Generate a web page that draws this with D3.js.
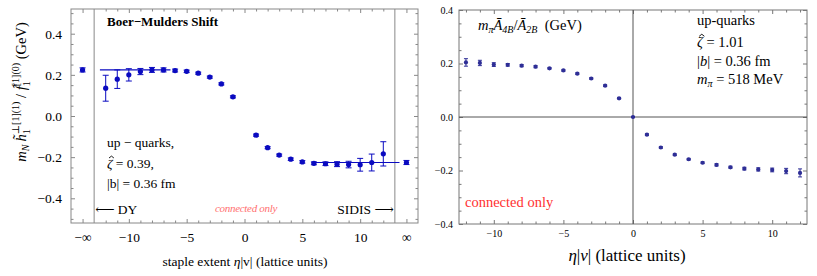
<!DOCTYPE html>
<html>
<head>
<meta charset="utf-8">
<script src="https://cdn.jsdelivr.net/npm/d3@7"></script>
<style>
  body { margin: 0; background: #fff; }
  svg { display: block; }
  text { font-family: "Liberation Serif", "DejaVu Serif", serif; }
</style>
</head>
<body>
<div id="chart"></div>
<script>
// ---- left panel: Boer-Mulders shift, lattice data ----
const bmNegX = [-12, -11, -10, -9, -8, -7, -6, -5, -4, -3, -2, -1];
const bmNegY = [0.135, 0.179, 0.200, 0.216, 0.224, 0.224, 0.221, 0.217, 0.208, 0.189, 0.156, 0.093];
const bmNegErr = [0.063, 0.045, 0.030, 0.015, 0.012, 0.010, 0.007, 0.006, 0.005, 0.005, 0.005, 0.005];
const bmPosX = [1, 2, 3, 4, 5, 6, 7, 8, 9, 10, 11, 12];
const bmPosY = [-0.093, -0.154, -0.190, -0.210, -0.223, -0.230, -0.232, -0.234, -0.236, -0.237, -0.226, -0.184];
const bmPosErr = [0.005, 0.005, 0.005, 0.006, 0.006, 0.007, 0.009, 0.012, 0.016, 0.031, 0.041, 0.059];
// the two extrapolated points, drawn at the ±∞ positions
const bmInfX = [-14, 14];
const bmInfY = [0.224, -0.226];
const bmInfErr = [0.010, 0.010];
// plateau fits
const bmFitX = [[-12.5, -6.4], [5.8, 13.4]];
const bmFitY = [0.224, -0.226];
const bmXTicks = [-14, -10, -5, 0, 5, 10, 14];
const bmXLabels = ['−∞', '−10', '−5', '0', '5', '10', '∞'];
const bmYTicks = [-0.4, -0.2, 0, 0.2, 0.4];

// ---- right panel: m_pi A4B / A2B ----
const a4X = [-12, -11, -10, -9, -8, -7, -6, -5, -4, -3, -2, -1, 0, 1, 2, 3, 4, 5, 6, 7, 8, 9, 10, 11, 12];
const a4Y = [0.204, 0.202, 0.196, 0.195, 0.192, 0.188, 0.182, 0.174, 0.162, 0.144, 0.117, 0.070, 0,
             -0.066, -0.114, -0.141, -0.158, -0.171, -0.179, -0.188, -0.193, -0.196, -0.198, -0.202, -0.209];
const a4Err = [0.014, 0.010, 0.007, 0.005, 0.004, 0.004, 0.003, 0.003, 0.003, 0.003, 0.003, 0.003, 0.002,
               0.003, 0.003, 0.003, 0.003, 0.003, 0.004, 0.004, 0.005, 0.006, 0.007, 0.010, 0.015];
const a4XTicks = [-10, -5, 0, 5, 10];
const a4YTicks = [-0.4, -0.2, 0, 0.2, 0.4];

const width = 817, height = 276;
const svg = d3.select('#chart').append('svg')
  .attr('width', width).attr('height', height)
  .attr('font-family', '"Liberation Serif", serif');

const fmt = d3.format('.1f');

// frame with inward ticks on all four sides
function frame(g, x, y, o) {
  const [x0, x1] = x.range();
  const [y1, y0] = y.range();
  const sides = [
    { ax: d3.axisBottom(x), t: `translate(0,${y1})`, major: o.xMajor, minor: o.xMinor, f: o.xFormat },
    { ax: d3.axisTop(x), t: `translate(0,${y0})`, major: o.xMajor, minor: o.xMinor, f: '' },
    { ax: d3.axisLeft(y), t: `translate(${x0},0)`, major: o.yMajor, minor: o.yMinor, f: o.yFormat },
    { ax: d3.axisRight(y), t: `translate(${x1},0)`, major: o.yMajor, minor: o.yMinor, f: '' }
  ];
  sides.forEach(s => {
    const major = g.append('g').attr('transform', s.t)
      .call(s.ax.tickValues(s.major).tickSize(-o.major).tickPadding(o.pad).tickFormat(s.f));
    major.select('.domain').remove();
    major.selectAll('line').attr('stroke', o.color);
    major.selectAll('text').attr('font-size', o.font).attr('fill', '#000')
      .attr('font-family', '"Liberation Serif", serif');
    const minor = g.append('g').attr('transform', s.t)
      .call(s.ax.tickValues(s.minor).tickSize(-o.minor).tickFormat(''));
    minor.select('.domain').remove();
    minor.selectAll('line').attr('stroke', o.color);
  });
  g.append('rect').attr('x', x0).attr('y', y0).attr('width', x1 - x0).attr('height', y1 - y0)
    .attr('fill', 'none').attr('stroke', o.color).attr('stroke-width', 1);
}

function errorPoints(g, xs, ys, es, x, y, color, r, cap) {
  const d = xs.map((v, i) => ({ x: v, y: ys[i], e: es[i] }));
  const grp = g.append('g').attr('stroke', color).attr('stroke-width', 1);
  grp.selectAll('line.bar').data(d).join('line').attr('class', 'bar')
    .attr('x1', p => x(p.x)).attr('x2', p => x(p.x))
    .attr('y1', p => y(p.y - p.e)).attr('y2', p => y(p.y + p.e));
  grp.selectAll('line.capt').data(d).join('line').attr('class', 'capt')
    .attr('x1', p => x(p.x) - cap).attr('x2', p => x(p.x) + cap)
    .attr('y1', p => y(p.y + p.e)).attr('y2', p => y(p.y + p.e));
  grp.selectAll('line.capb').data(d).join('line').attr('class', 'capb')
    .attr('x1', p => x(p.x) - cap).attr('x2', p => x(p.x) + cap)
    .attr('y1', p => y(p.y - p.e)).attr('y2', p => y(p.y - p.e));
  g.append('g').selectAll('circle').data(d).join('circle')
    .attr('cx', p => x(p.x)).attr('cy', p => y(p.y)).attr('r', r).attr('fill', color);
}

// zeta with a hat; the hat is a small path, not a glyph
function zetaLine(g, x0, y0, size, rest) {
  const t = g.append('text').attr('x', x0).attr('y', y0).attr('font-size', size);
  t.append('tspan').attr('font-style', 'italic').text('ζ');
  t.append('tspan').text(rest);
  const cx = x0 + size * 0.33, top = y0 - size * 0.88;
  g.append('path')
    .attr('d', `M${cx - size * 0.18},${top + size * 0.14} L${cx},${top} L${cx + size * 0.18},${top + size * 0.14}`)
    .attr('fill', 'none').attr('stroke', '#000').attr('stroke-width', 0.9);
}

const minorX = d3.range(-12, 13).filter(v => v % 5 !== 0);

// ================= left panel =================
{
  const g = svg.append('g');
  const x = d3.scaleLinear().domain([-15, 15]).range([71, 418]);
  const y = d3.scaleLinear().domain([-0.52, 0.52]).range([223, 9]);
  const blue = '#0a0ac0';

  frame(g, x, y, {
    xMajor: bmXTicks, xMinor: minorX,
    yMajor: bmYTicks, yMinor: [-0.5, -0.3, -0.1, 0.1, 0.3, 0.5, -0.45, -0.35, -0.25, -0.15, -0.05, 0.05, 0.15, 0.25, 0.35, 0.45],
    major: 4, minor: 2.5, pad: 9, font: 13.5, color: '#888',
    xFormat: (v) => bmXLabels[bmXTicks.indexOf(v)], yFormat: fmt
  });

  // DY / SIDIS separators
  [-13, 13].forEach(v => g.append('line')
    .attr('x1', x(v)).attr('x2', x(v)).attr('y1', y.range()[1]).attr('y2', y.range()[0])
    .attr('stroke', '#888'));

  // plateau fit lines
  bmFitX.forEach((fx, i) => g.append('line')
    .attr('x1', x(fx[0])).attr('x2', x(fx[1]))
    .attr('y1', y(bmFitY[i])).attr('y2', y(bmFitY[i]))
    .attr('stroke', blue).attr('stroke-width', 1.2));

  errorPoints(g, bmNegX, bmNegY, bmNegErr, x, y, blue, 2.6, 3);
  errorPoints(g, bmPosX, bmPosY, bmPosErr, x, y, blue, 2.6, 3);
  errorPoints(g, bmInfX, bmInfY, bmInfErr, x, y, blue, 2.6, 3);

  g.append('text').attr('x', 107).attr('y', 26).attr('font-size', 13)
    .attr('font-weight', 'bold').text('Boer−Mulders Shift');

  g.append('text').attr('x', 107).attr('y', 147).attr('font-size', 13.5).text('up − quarks,');
  zetaLine(g, 107, 168, 13.5, '\u00a0= 0.39,');
  g.append('text').attr('x', 107).attr('y', 188).attr('font-size', 13.5).text('|b| = 0.36 fm');

  g.append('text').attr('x', x(-13) + 1).attr('y', 214).attr('font-size', 13.5).text('⟵ DY');
  g.append('text').attr('x', x(13) - 1).attr('y', 214).attr('font-size', 13.5)
    .attr('text-anchor', 'end').text('SIDIS ⟶');
  g.append('text').attr('x', 246).attr('y', 212).attr('font-size', 11)
    .attr('font-style', 'italic').attr('fill', '#ff7070').attr('text-anchor', 'middle')
    .attr('letter-spacing', -0.3).text('connected only');

  const xt = g.append('text').attr('x', 245).attr('y', 266).attr('font-size', 13.5)
    .attr('text-anchor', 'middle');
  xt.append('tspan').text('staple extent ');
  xt.append('tspan').attr('font-style', 'italic').text('η');
  xt.append('tspan').text('|v| (lattice units)');

  // rotated y title
  const yt = g.append('text').attr('transform', 'translate(26,92) rotate(-90)')
    .attr('font-size', 14.5).attr('text-anchor', 'middle');
  yt.append('tspan').attr('font-style', 'italic').text('m');
  yt.append('tspan').attr('font-style', 'italic').attr('font-size', 10).attr('dy', 3).text('N');
  yt.append('tspan').attr('font-style', 'italic').attr('dy', -3).attr('dx', 3).text('h\u0303');
  yt.append('tspan').attr('font-size', 10).attr('dy', 4).text('1');
  yt.append('tspan').attr('font-size', 10).attr('dy', -11).attr('dx', -5).text('⊥[1](1)');
  yt.append('tspan').attr('dy', 7).text(' / ');
  yt.append('tspan').attr('font-style', 'italic').text('f\u0303');
  yt.append('tspan').attr('font-size', 10).attr('dy', 4).text('1');
  yt.append('tspan').attr('font-size', 10).attr('dy', -11).attr('dx', -5).text('[1](0)');
  yt.append('tspan').attr('dy', 7).text(' (GeV)');
}

// ================= right panel =================
{
  const g = svg.append('g');
  const x = d3.scaleLinear().domain([-12.5, 12.5]).range([459, 807]);
  const y = d3.scaleLinear().domain([-0.4, 0.4]).range([224, 10]);
  const col = '#2e2e96';

  frame(g, x, y, {
    xMajor: a4XTicks, xMinor: minorX,
    yMajor: a4YTicks, yMinor: [-0.35, -0.3, -0.25, -0.15, -0.1, -0.05, 0.05, 0.1, 0.15, 0.25, 0.3, 0.35],
    major: 4, minor: 2.5, pad: 6, font: 10, color: '#777',
    xFormat: d3.format('d'), yFormat: fmt
  });

  // zero lines
  g.append('line').attr('x1', x(0)).attr('x2', x(0)).attr('y1', y(-0.4)).attr('y2', y(0.4))
    .attr('stroke', '#555');
  g.append('line').attr('x1', x(-12.5)).attr('x2', x(12.5)).attr('y1', y(0)).attr('y2', y(0))
    .attr('stroke', '#555');

  errorPoints(g, a4X, a4Y, a4Err, x, y, col, 2.1, 2);

  const t = g.append('text').attr('x', 478).attr('y', 30).attr('font-size', 14.5);
  t.append('tspan').attr('font-style', 'italic').text('m');
  t.append('tspan').attr('font-style', 'italic').attr('font-size', 10).attr('dy', 3).text('π');
  t.append('tspan').attr('font-style', 'italic').attr('dy', -3).text('Ā');
  t.append('tspan').attr('font-style', 'italic').attr('font-size', 10).attr('dy', 3).text('4B');
  t.append('tspan').attr('dy', -3).text('/');
  t.append('tspan').attr('font-style', 'italic').text('Ā');
  t.append('tspan').attr('font-style', 'italic').attr('font-size', 10).attr('dy', 3).text('2B');
  t.append('tspan').attr('dy', -3).text('\u00a0\u00a0(GeV)');

  g.append('text').attr('x', 697).attr('y', 25).attr('font-size', 14.5).text('up-quarks');
  zetaLine(g, 697, 47, 14.5, '\u00a0= 1.01');
  const b = g.append('text').attr('x', 697).attr('y', 66).attr('font-size', 14.5);
  b.append('tspan').text('|');
  b.append('tspan').attr('font-style', 'italic').text('b');
  b.append('tspan').text('| = 0.36 fm');
  const m = g.append('text').attr('x', 697).attr('y', 84).attr('font-size', 14.5);
  m.append('tspan').attr('font-style', 'italic').text('m');
  m.append('tspan').attr('font-style', 'italic').attr('font-size', 10).attr('dy', 3).text('π');
  m.append('tspan').attr('dy', -3).text(' = 518 MeV');

  g.append('text').attr('x', 465).attr('y', 207).attr('font-size', 14.5)
    .attr('fill', '#ff3030').text('connected only');

  const xt = g.append('text').attr('x', 627).attr('y', 261).attr('font-size', 17)
    .attr('text-anchor', 'middle');
  xt.append('tspan').attr('font-style', 'italic').text('η');
  xt.append('tspan').text('|');
  xt.append('tspan').attr('font-style', 'italic').text('v');
  xt.append('tspan').text('|  (lattice units)');
}
</script>
</body>
</html>
